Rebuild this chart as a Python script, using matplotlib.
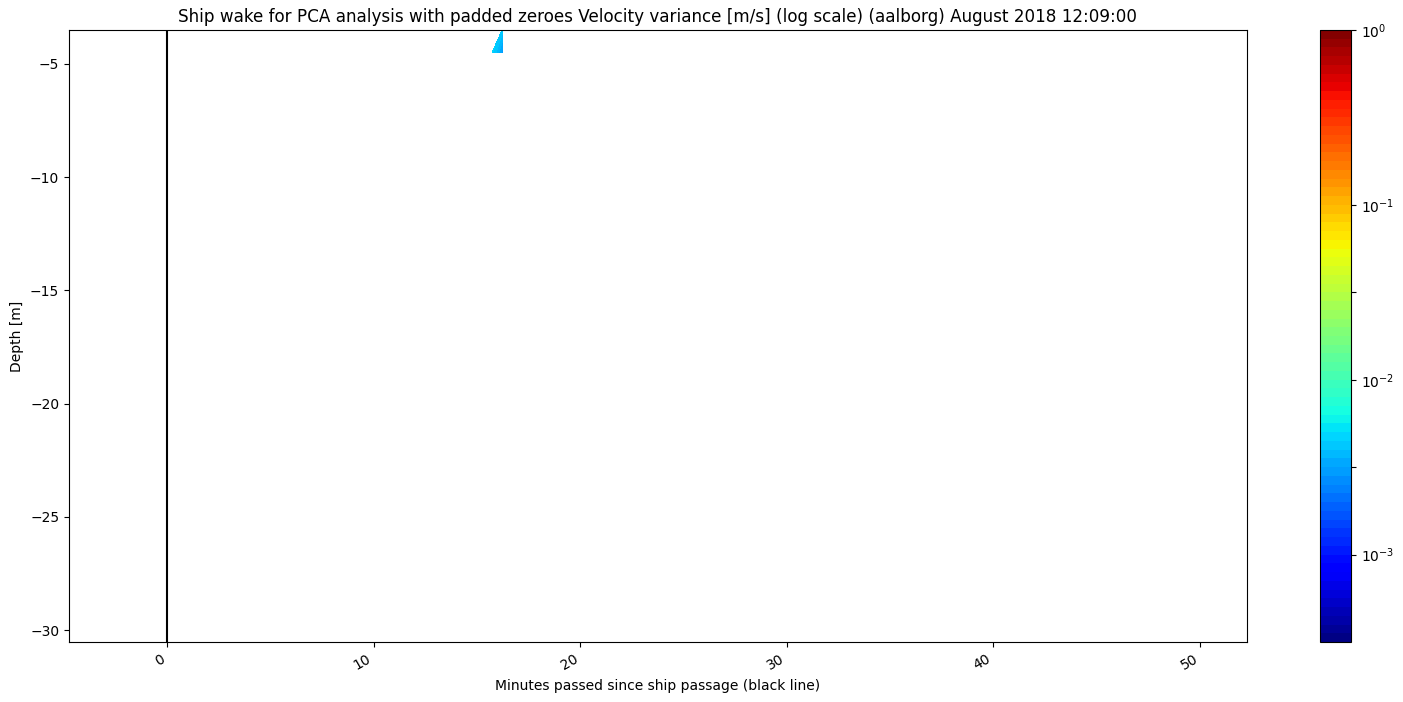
import numpy as np
import matplotlib
matplotlib.use("Agg")
import matplotlib.pyplot as plt
from matplotlib.colors import LogNorm

plt.rcParams["text.hinting"] = "auto"

minutes = [-4.74, 15.73, 16.22, 52.27]
depths = [-30.53, -4.5, -3.5]
variance = [
    [np.nan, np.nan, np.nan, np.nan],
    [np.nan, 0.0046, 0.0030, np.nan],
    [np.nan, np.nan, 0.0042, np.nan],
]
level_exponents = np.arange(-70, 1) / 20.0
cbar_tick_exponents = [-3.0, -2.5, -2.0, -1.5, -1.0, 0.0]
cbar_tick_labels = [r"$\mathdefault{10^{-3}}$", "", r"$\mathdefault{10^{-2}}$", "",
                    r"$\mathdefault{10^{-1}}$", r"$\mathdefault{10^{0}}$"]
xticks = [0, 10, 20, 30, 40, 50]
yticks = [-5, -10, -15, -20, -25, -30]
title = "Ship wake for PCA analysis with padded zeroes Velocity variance [m/s] (log scale) (aalborg) August 2018 12:09:00"

W, H = 1403, 702
fig = plt.figure(figsize=(W / 100, H / 100), dpi=100)
ax = fig.add_axes([69 / W, 1 - 642 / H, (1247 - 69) / W, (642 - 30) / H])
cax = fig.add_axes([1320 / W, 1 - 642 / H, (1351 - 1320) / W, (642 - 30) / H])

Z = np.ma.masked_invalid(np.array(variance))
levels = 10.0 ** level_exponents
cs = ax.contourf(minutes, depths, Z, levels=levels, cmap="jet",
                 norm=LogNorm(vmin=levels[0], vmax=levels[-1]))
ax.axvline(0, color="k", lw=1.5)
ax.set_xlim(minutes[0], minutes[-1])
ax.set_ylim(depths[0], depths[-1])
ax.set_xticks(xticks)
ax.set_yticks(yticks)
for lab in ax.get_xticklabels():
    lab.set_rotation(30)
    lab.set_ha("right")
ax.set_xlabel("Minutes passed since ship passage (black line)", labelpad=4.7)
ax.set_ylabel("Depth [m]")
ax.set_title(title, fontsize=12.09)

cb = fig.colorbar(cs, cax=cax)
cb.set_ticks([10.0 ** e for e in cbar_tick_exponents])
cb.set_ticklabels(cbar_tick_labels)
cb.minorticks_off()

fig.savefig("out.png", dpi=100)
